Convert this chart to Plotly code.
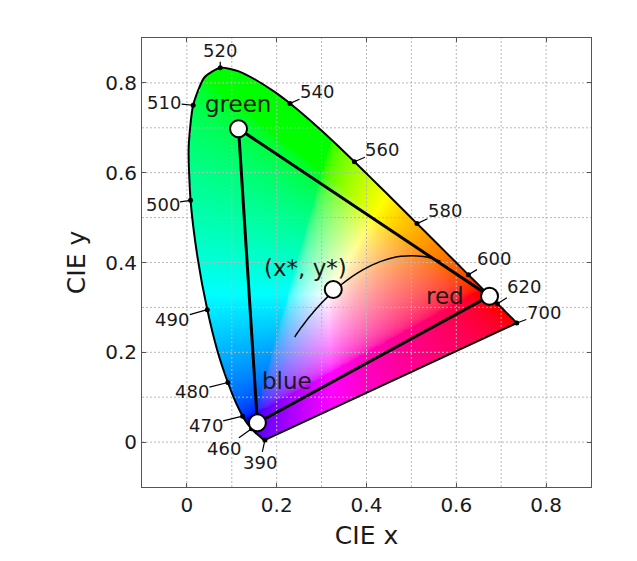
import numpy as np
import plotly.graph_objects as go

# CIE 1931 2-degree spectral locus, chromaticity coordinates every 5 nm
wavelength_nm = list(range(380, 705, 5))
locus_x = [0.1741, 0.1740, 0.1738, 0.1736, 0.1733, 0.1730, 0.1726, 0.1721, 0.1714, 0.1703,
           0.1689, 0.1669, 0.1644, 0.1611, 0.1566, 0.1510, 0.1440, 0.1355, 0.1241, 0.1096,
           0.0913, 0.0687, 0.0454, 0.0235, 0.0082, 0.0039, 0.0139, 0.0389, 0.0743, 0.1142,
           0.1547, 0.1929, 0.2296, 0.2658, 0.3016, 0.3373, 0.3731, 0.4087, 0.4441, 0.4788,
           0.5125, 0.5448, 0.5752, 0.6029, 0.6270, 0.6482, 0.6658, 0.6801, 0.6915, 0.7006,
           0.7079, 0.7140, 0.7190, 0.7230, 0.7260, 0.7283, 0.7300, 0.7311, 0.7320, 0.7327,
           0.7334, 0.7340, 0.7344, 0.7346, 0.7347]
locus_y = [0.0050, 0.0050, 0.0049, 0.0049, 0.0048, 0.0048, 0.0048, 0.0048, 0.0051, 0.0058,
           0.0069, 0.0086, 0.0109, 0.0138, 0.0177, 0.0227, 0.0297, 0.0399, 0.0578, 0.0868,
           0.1327, 0.2007, 0.2950, 0.4127, 0.5384, 0.6548, 0.7502, 0.8120, 0.8338, 0.8262,
           0.8059, 0.7816, 0.7543, 0.7243, 0.6923, 0.6589, 0.6245, 0.5896, 0.5547, 0.5202,
           0.4866, 0.4544, 0.4242, 0.3965, 0.3725, 0.3514, 0.3340, 0.3197, 0.3083, 0.2993,
           0.2920, 0.2859, 0.2809, 0.2770, 0.2740, 0.2717, 0.2700, 0.2689, 0.2680, 0.2673,
           0.2666, 0.2660, 0.2656, 0.2654, 0.2653]

# Wavelengths marked on the locus
labelled_nm = [390, 460, 470, 480, 490, 500, 510, 520, 540, 560, 580, 600, 620, 700]

# Planckian (black-body) locus from 1667 K up to infinite temperature
planck_x = [0.5646, 0.5267, 0.4770, 0.4369, 0.4053, 0.3805, 0.3608, 0.3451, 0.3325,
            0.3221, 0.3135, 0.3064, 0.2952, 0.2807, 0.2714, 0.2637, 0.2565, 0.2501,
            0.2451, 0.2413, 0.2399]
planck_y = [0.4029, 0.4133, 0.4137, 0.4041, 0.3907, 0.3768, 0.3636, 0.3516, 0.3408,
            0.3318, 0.3236, 0.3166, 0.3048, 0.2883, 0.2776, 0.2671, 0.2577, 0.2489,
            0.2418, 0.2361, 0.2342]

# Display primaries and the white point
primary_names = ["green", "red", "blue"]
primary_x = [0.115, 0.674, 0.157]
primary_y = [0.698, 0.325, 0.043]
white_x = [0.326]
white_y = [0.340]

# Axis ticks
tick_vals = [0, 0.2, 0.4, 0.6, 0.8]
tick_text = ["0", "0.2", "0.4", "0.6", "0.8"]
grid_vals = [round(v * 0.1, 1) for v in range(0, 9)]

FONT = "DejaVu Sans"
INK = "#1a1a1a"

# ---- colour fill of the gamut, computed on a grid inside the locus ----
step = 0.002
gx = np.arange(0.0 + step / 2, 0.75, step)
gy = np.arange(0.0 + step / 2, 0.85, step)
XX, YY = np.meshgrid(gx, gy)

px = np.array(locus_x + [locus_x[0]])
py = np.array(locus_y + [locus_y[0]])
inside = np.zeros(XX.shape, dtype=bool)
for i in range(len(px) - 1):
    x1, y1, x2, y2 = px[i], py[i], px[i + 1], py[i + 1]
    cond = (y1 > YY) != (y2 > YY)
    with np.errstate(divide="ignore", invalid="ignore"):
        xcross = x1 + (YY - y1) * (x2 - x1) / (y2 - y1)
    inside ^= cond & (XX < xcross)

Yv = np.ones_like(XX)
Xv = XX / YY
Zv = (1 - XX - YY) / YY
M = np.array([[3.2406, -1.5372, -0.4986],
              [-0.9689, 1.8758, 0.0415],
              [0.0557, -0.2040, 1.0570]])
rgb = np.einsum("ij,jhw->hwi", M, np.stack([Xv, Yv, Zv]))
rgb = np.clip(rgb, 0, None)
rgb = rgb / rgb.max(axis=2, keepdims=True)
rgb = np.where(rgb <= 0.0031308, 12.92 * rgb, 1.055 * np.power(rgb, 1 / 2.4) - 0.055)
rgba = np.zeros(XX.shape + (4,))
rgba[..., :3] = np.clip(rgb * 255, 0, 255)
rgba[..., 3] = inside.astype(float)
rgba[~inside, :3] = 255

fig = go.Figure()
fig.add_trace(go.Image(z=rgba, colormodel="rgba", x0=gx[0], dx=step, y0=gy[0], dy=step,
                       hoverinfo="skip"))

# dotted grid drawn over the colour fill
gxs, gys = [], []
for v in grid_vals:
    gxs += [v, v, None, -0.1, 0.9, None]
    gys += [-0.1, 0.9, None, v, v, None]
fig.add_trace(go.Scatter(x=gxs, y=gys, mode="lines", hoverinfo="skip",
                         line=dict(color="#b8b8b8", width=1, dash="2px,2px")))

# spectral locus outline and the straight line of purples
fig.add_trace(go.Scatter(x=locus_x, y=locus_y, mode="lines",
                         line=dict(color="black", width=2, shape="spline", smoothing=0.6),
                         hoverinfo="skip"))
fig.add_trace(go.Scatter(x=[locus_x[-1], locus_x[0]], y=[locus_y[-1], locus_y[0]],
                         mode="lines", line=dict(color="black", width=2), hoverinfo="skip"))

# Planckian locus
fig.add_trace(go.Scatter(x=planck_x, y=planck_y, mode="lines",
                         line=dict(color="black", width=1.5, shape="spline"), hoverinfo="skip"))

# gamut triangle
fig.add_trace(go.Scatter(x=primary_x + [primary_x[0]], y=primary_y + [primary_y[0]],
                         mode="lines", line=dict(color="black", width=3), hoverinfo="skip"))

# wavelength markers
mx = [locus_x[wavelength_nm.index(w)] for w in labelled_nm]
my = [locus_y[wavelength_nm.index(w)] for w in labelled_nm]
fig.add_trace(go.Scatter(x=mx, y=my, mode="markers", hoverinfo="skip",
                         marker=dict(color="black", size=5)))

# primaries and white point
fig.add_trace(go.Scatter(x=primary_x + white_x, y=primary_y + white_y, mode="markers",
                         hoverinfo="skip",
                         marker=dict(color="white", size=17, line=dict(color="black", width=2))))

# wavelength labels with short leader lines
offsets = {390: (-5, 23), 460: (-28, 20), 470: (-37, 9), 480: (-36, 9), 490: (-35, 10),
           500: (-28, 4), 510: (-29, -3), 520: (0, -17), 540: (27, -12), 560: (28, -12),
           580: (28, -13), 600: (26, -16), 620: (27, -17), 700: (27, -10)}
annotations = []
for w, x, y in zip(labelled_nm, mx, my):
    ax, ay = offsets[w]
    annotations.append(dict(x=x, y=y, xref="x", yref="y", text=str(w), showarrow=True,
                            ax=ax, ay=ay, arrowhead=0, arrowwidth=1.2, arrowcolor="black",
                            standoff=0, borderpad=0,
                            font=dict(family=FONT, size=18, color=INK)))

label_pos = {"green": (0.1136, 0.753), "red": (0.575, 0.326), "blue": (0.222, 0.135)}
for name in primary_names:
    lx, ly = label_pos[name]
    annotations.append(dict(x=lx, y=ly, xref="x", yref="y", text=name, showarrow=False,
                            font=dict(family=FONT, size=23, color=INK)))
annotations.append(dict(x=0.265, y=0.388, xref="x", yref="y", text="(x*, y*)",
                        showarrow=False, font=dict(family=FONT, size=23, color=INK)))

axis_common = dict(
    range=[-0.1, 0.9], tickvals=tick_vals, ticktext=tick_text, showgrid=False,
    zeroline=False, showline=True, linecolor="#555555", linewidth=1, mirror="ticks",
    ticks="inside", ticklen=4, tickcolor="#555555",
    tickfont=dict(family=FONT, size=20, color=INK),
)

fig.update_layout(
    width=637, height=561,
    margin=dict(l=142, r=46, t=38, b=74),
    paper_bgcolor="white", plot_bgcolor="white",
    showlegend=False,
    annotations=annotations,
    xaxis=dict(**axis_common, title=dict(text="CIE x", standoff=10,
                                         font=dict(family=FONT, size=25, color=INK))),
    yaxis=dict(**axis_common, scaleanchor="x", scaleratio=1,
               title=dict(text="CIE y", standoff=12,
                          font=dict(family=FONT, size=25, color=INK))),
)

fig.write_html("out.html")
